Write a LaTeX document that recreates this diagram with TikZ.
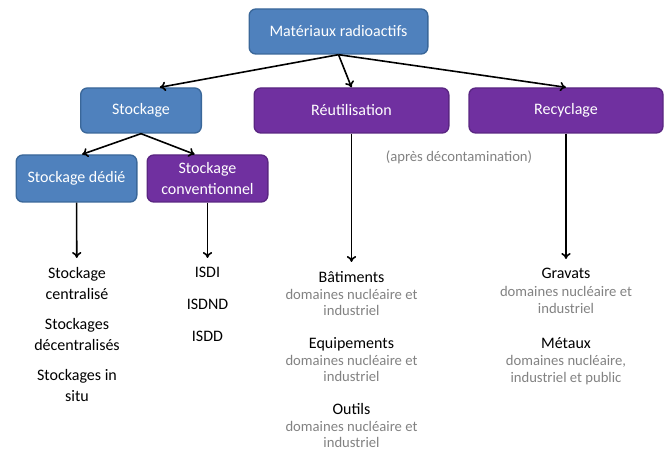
\documentclass[tikz,border=0pt]{standalone}
\usepackage{fontspec}
\setmainfont{Carlito}
\usetikzlibrary{arrows.meta, positioning}

\definecolor{boxblue}{HTML}{4F81BD}
\definecolor{boxblueline}{HTML}{3A6799}
\definecolor{boxpurple}{HTML}{7030A0}
\definecolor{boxpurpleline}{HTML}{5A2682}
\definecolor{txtgray}{HTML}{828282}

\newcommand{\descr}[1]{{\fontsize{11}{12.4}\selectfont\color{txtgray}#1}}

\begin{document}
\begin{tikzpicture}[
    x = 0.75pt, y = -0.75pt,
    box/.style = {
      rectangle,
      rounded corners = 5pt,
      line width = 1pt,
      text = white,
      align = center,
      font = \fontsize{12}{15.75}\selectfont,
      minimum height = 33.75pt,
    },
    bluebox/.style = { box, fill = boxblue, draw = boxblueline },
    purplebox/.style = { box, fill = boxpurple, draw = boxpurpleline },
    listtxt/.style = {
      anchor = north,
      align = center,
      inner xsep = 0pt,
      inner ysep = 7pt,
    },
    arr/.style = { -{To[length = 4.5pt, width = 7pt]}, line width = 1.2pt },
  ]
  \useasboundingbox (0, 0) rectangle (669, 452);

  \node [bluebox, minimum width = 134pt] (materiaux) at (338.5, 31.5)
    {Matériaux radioactifs};
  \node [bluebox, minimum width = 90.5pt] (stockage) at (141, 110.5)
    {Stockage};
  \node [purplebox, minimum width = 146pt] (reutil) at (351.5, 110.5)
    {Réutilisation};
  \node [purplebox, minimum width = 145.5pt] (recyclage) at (566, 110.5)
    {Recyclage};
  \node [bluebox, minimum width = 90.5pt, minimum height = 35.25pt] (dedie)
    at (76.5, 178.5) {Stockage dédié};
  \node [purplebox, minimum width = 90.5pt, minimum height = 35.25pt] (conv)
    at (207.5, 178.5) {Stockage\\conventionnel};

  \node [font = \fontsize{11}{13}\selectfont, text = txtgray] (decontam)
    at (459, 157) {(après décontamination)};

  % listes sous les boites
  \node [listtxt, font = \fontsize{12}{15.75}\selectfont] (listdedie)
    at (77, 258)
    {Stockage\\centralisé\\[6.75pt]Stockages\\décentralisés\\[6.75pt]%
     Stockages in\\situ};
  \node [listtxt, font = \fontsize{12}{15.75}\selectfont] (listconv)
    at (207.5, 258) {ISDI\\[7.9pt]ISDND\\[7.9pt]ISDD};
  \node [listtxt, font = \fontsize{12}{12.4}\selectfont] (listreutil)
    at (351.5, 262)
    {Bâtiments\\\descr{domaines nucléaire et}\\\descr{industriel}\\[12.4pt]%
     Equipements\\\descr{domaines nucléaire et}\\\descr{industriel}\\[12.4pt]%
     Outils\\\descr{domaines nucléaire et}\\\descr{industriel}};
  \node [listtxt, font = \fontsize{12}{12.8}\selectfont] (listrecyc)
    at (566, 259)
    {Gravats\\\descr{domaines nucléaire et}\\\descr{industriel}\\[14pt]%
     Métaux\\\descr{domaines nucléaire,}\\\descr{industriel et public}};

  \draw [arr] (materiaux.south) -- (stockage.51);
  \draw [arr] (materiaux.south) -- (reutil.north);
  \draw [arr] (materiaux.south) -- (recyclage.north);
  \draw [arr] (stockage.south) -- (dedie.77);
  \draw [arr] (stockage.south) -- (conv.118);

  \draw [arr] (dedie) -- (listdedie);
  \draw [arr] (conv) -- (listconv);
  \draw [arr] (reutil) -- (listreutil);
  \draw [arr] (recyclage) -- (listrecyc);
\end{tikzpicture}
\end{document}
